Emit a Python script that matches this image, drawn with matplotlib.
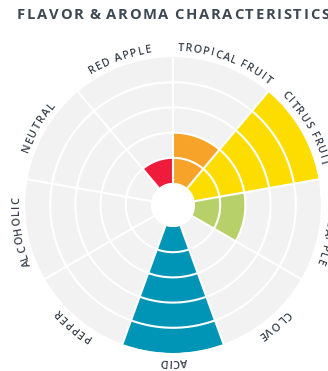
import numpy as np
import matplotlib

matplotlib.use("Agg")
import matplotlib.pyplot as plt
from matplotlib.font_manager import FontProperties
from matplotlib.textpath import TextToPath

categories = ["TROPICAL FRUIT", "CITRUS FRUIT", "PINEAPPLE", "CLOVE", "ACID",
              "PEPPER", "ALCOHOLIC", "NEUTRAL", "RED APPLE"]
scores = [2, 5, 2, 0, 5, 0, 0, 0, 1]
bar_colors = ["#F7A229", "#FDDD00", "#B7D06A", "#F2F2F2", "#0094B6",
              "#F2F2F2", "#F2F2F2", "#F2F2F2", "#EE1B3B"]
levels = 5
title = "FLAVOR & AROMA CHARACTERISTICS"

W, H, DPI = 328, 371, 100
CX, CY, RAD, HOLE = 173, 205, 148, 22
TEXT_COLOR = "#353f4a"

t2p = TextToPath()


def char_widths(s, prop):
    # advance widths in pixels
    return [t2p.get_text_width_height_descent(c, prop, ismath=False)[0] * DPI / 72 for c in s]


fig = plt.figure(figsize=(W / DPI, H / DPI), dpi=DPI)
ax = fig.add_axes([(CX - RAD) / W, (H - CY - RAD) / H, 2 * RAD / W, 2 * RAD / H],
                  projection="polar")
ax.set_theta_zero_location("N")
ax.set_theta_direction(-1)
rorigin = -HOLE * levels / (RAD - HOLE)
ax.set_rorigin(rorigin)
ax.set_ylim(0, levels)
ax.axis("off")

n = len(categories)
step = 2 * np.pi / n
theta = (np.arange(n) + 0.5) * step

ax.bar(theta, [levels] * n, width=step, bottom=0, color="#F2F2F2", edgecolor="none")
ax.bar(theta, scores, width=step, bottom=0, color=bar_colors, edgecolor="none")

# white rings and spokes on top
ring_t = np.linspace(0, 2 * np.pi, 400)
for r in range(1, levels):
    ax.plot(ring_t, [r] * len(ring_t), color="white", lw=1.5)
for i in range(n):
    ax.plot([i * step, i * step], [0, levels], color="white", lw=1.5)

# curved category labels, letter tops pointing outward
label_prop = FontProperties(family=["Open Sans", "DejaVu Sans"], weight="semibold", size=7.8)
track = 1.1
r_base = 154
r_data = rorigin + r_base / RAD * (levels - rorigin)
for name, th in zip(categories, theta):
    ws = char_widths(name, label_prop)
    total = sum(ws) + track * (len(ws) - 1)
    s = -total / 2
    for c, w in zip(name, ws):
        phi = th + (s + w / 2) / r_base
        ax.text(phi, r_data, c, fontproperties=label_prop, color=TEXT_COLOR,
                rotation=-np.degrees(phi), rotation_mode="anchor",
                ha="center", va="baseline", clip_on=False)
        s += w + track

# title with letter spacing, tighter word gaps
title_prop = FontProperties(family=["Open Sans", "DejaVu Sans"], weight="bold", size=10.6)
x = 17
for c, w in zip(title, char_widths(title, title_prop)):
    if c == " ":
        x += w * 0.6 + 1.75
        continue
    fig.text(x / W, 1 - 19 / H, c, fontproperties=title_prop, color="#3d4853",
             ha="left", va="baseline")
    x += w + 1.75

fig.savefig("out.png", dpi=DPI)
